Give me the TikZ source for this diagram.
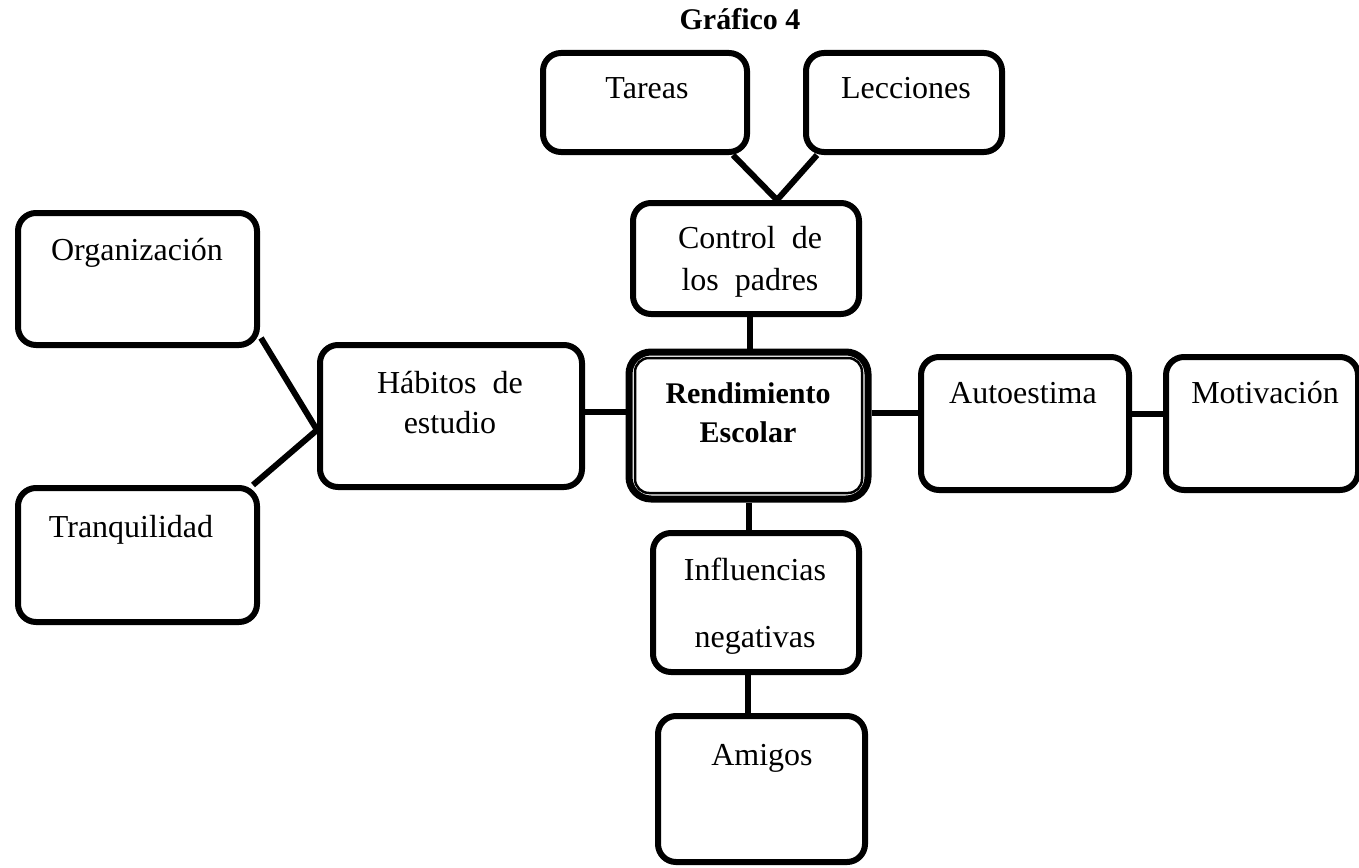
\documentclass[tikz,border=0pt]{standalone}
\usepackage{fontspec}
\setmainfont{Liberation Serif}
\usetikzlibrary{calc}
\tikzset{
  box/.style={draw, line width=6pt, rounded corners=18pt, inner sep=0pt},
  lbl/.style={font=\fontsize{32}{38}\selectfont, anchor=base, inner sep=0pt},
  blbl/.style={font=\fontsize{30}{36}\selectfont\bfseries, anchor=base, inner sep=0pt},
  conn/.style={line width=6pt}
}
\begin{document}
\begin{tikzpicture}[x=1pt,y=-1pt]
\useasboundingbox (0,0) rectangle (1359,867);
% boxes
\node[box, minimum width=204, minimum height=99] (tareas) at (645,102.5) {};
\node[box, minimum width=196, minimum height=99] (lec) at (904,102.5) {};
\node[box, minimum width=226, minimum height=111] (ctrl) at (746,258.5) {};
\node[draw, line width=7pt, rounded corners=22pt, inner sep=0pt, minimum width=239, minimum height=147] (rend) at (748.5,425.5) {};
\draw[line width=2.5pt, rounded corners=14pt] ($(rend.north west)+(9.5,9.5)$) rectangle ($(rend.south east)+(-9.5,-9.5)$);
\node[box, minimum width=262, minimum height=142] (hab) at (451,416) {};
\node[box, minimum width=239, minimum height=132] (org) at (137.5,279) {};
\node[box, minimum width=239, minimum height=134] (tranq) at (137.5,555) {};
\node[box, minimum width=208, minimum height=133] (aut) at (1025,423.5) {};
\node[box, minimum width=192, minimum height=133] (mot) at (1262,423.5) {};
\node[box, minimum width=206, minimum height=139] (infl) at (756,602.5) {};
\node[box, minimum width=207, minimum height=146] (amig) at (761.5,789) {};
% texts
\node[blbl] (title) at (740,30) {Gráfico 4};
\node[lbl] (tareas-t) at (647,98) {Tareas};
\node[lbl] (lec-t) at (906,98) {Lecciones};
\node[lbl] (ctrl-t1) at (750,248) {Control\ \ de};
\node[lbl] (ctrl-t2) at (750,290) {los\ \ padres};
\node[blbl] (rend-t1) at (748,403) {Rendimiento};
\node[blbl] (rend-t2) at (748,442) {Escolar};
\node[lbl] (hab-t1) at (450,393) {Hábitos\ \ de};
\node[lbl] (hab-t2) at (450,433) {estudio};
\node[lbl] (org-t) at (137,260) {Organización};
\node[lbl] (tranq-t) at (131,537) {Tranquilidad};
\node[lbl] (aut-t) at (1023,403) {Autoestima};
\node[lbl] (mot-t) at (1265,403) {Motivación};
\node[lbl] (infl-t1) at (755,580) {Influencias};
\node[lbl] (infl-t2) at (755,647) {negativas};
\node[lbl] (amig-t) at (762,765) {Amigos};
% connectors
\coordinate (cm) at ($(ctrl.north)+(31,0)$);
\draw[conn] ($(tareas.south east)+(-17,0)$) -- (cm);
\draw[conn] ($(lec.south west)+(14,0)$) -- (cm);
\coordinate (cb) at ($(ctrl.south)+(4,0)$);
\draw[conn] (cb) -- (cb |- rend.north);
\coordinate (he) at ($(hab.east)+(0,-4)$);
\draw[conn] (he) -- (he -| rend.west);
\coordinate (re) at ($(rend.east)+(0,-13)$);
\draw[conn] (re) -- (re -| aut.west);
\coordinate (ae) at ($(aut.east)+(0,-10)$);
\draw[conn] (ae) -- (ae -| mot.west);
\draw[conn] (rend.south) -- (rend.south |- infl.north);
\coordinate (ib) at ($(infl.south)+(-8,0)$);
\draw[conn] (ib) -- (ib |- amig.north);
\coordinate (hw) at ($(hab.west)+(0,14)$);
\draw[conn] ($(org.south east)+(1,-10)$) -- (hw);
\draw[conn] ($(tranq.north east)+(-7,0)$) -- (hw);
\end{tikzpicture}
\end{document}
